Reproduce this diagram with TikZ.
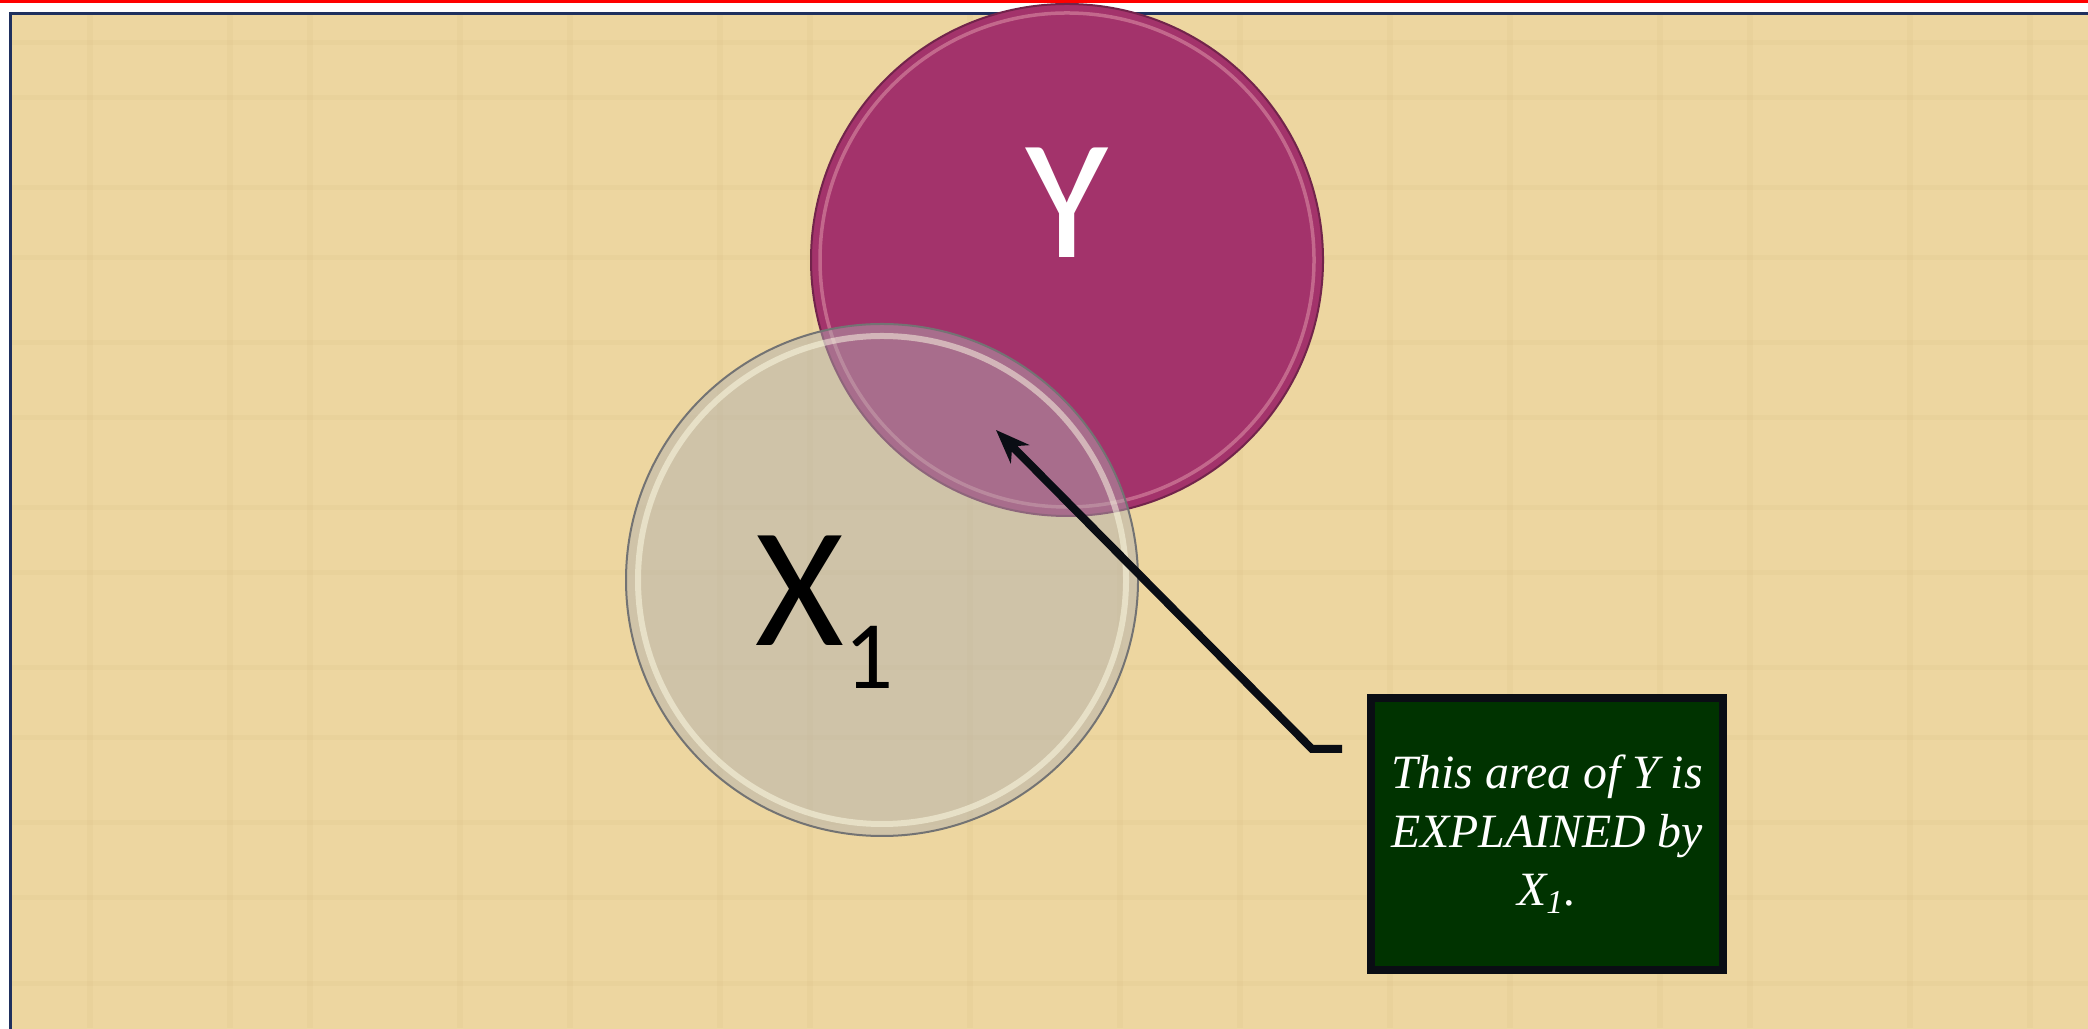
\documentclass[tikz,border=0pt]{standalone}
\usepackage{fontspec}
\usetikzlibrary{arrows.meta,positioning}
\newfontfamily\discfont{Carlito}
\newfontfamily\notefont{Liberation Serif}
\definecolor{papyrus}{RGB}{237,214,160}
\definecolor{papyrusdark}{RGB}{205,178,118}
\definecolor{framenavy}{RGB}{31,48,94}
\definecolor{ydisc}{RGB}{163,51,107}
\definecolor{xdisc}{RGB}{175,175,178}
\definecolor{boardgreen}{RGB}{0,51,0}
\definecolor{inkblack}{RGB}{10,13,20}

\begin{document}
\begin{tikzpicture}[
        disc/.style={circle, minimum size=5.12cm, inner sep=0pt},
        rim/.style={line width=0.035cm},
        pointer/.style={line width=0.08cm, inkblack, -{Stealth[length=0.34cm, width=0.26cm]}},
        note/.style={draw=inkblack, line width=0.08cm, fill=boardgreen, text=white,
            minimum width=3.52cm, minimum height=2.72cm, align=center,
            font=\notefont\itshape\fontsize{13.6}{16.7}\selectfont}
    ]
        \useasboundingbox (0,0) rectangle (20.88,10.28);
        \fill[white] (0,0) rectangle (20.88,10.28);

        % title rule and papyrus panel
        \fill[red] (0,10.25) rectangle (20.88,10.28);
        \fill[papyrus] (0.105,-0.5) rectangle (21.5,10.14);
        \foreach \y in {0.45,1.3,2.05,2.9,3.6,4.55,5.2,6.1,6.85,7.7,8.4,9.3,9.85}
            \draw[papyrusdark, opacity=0.1, line width=0.05cm] (0.105,\y) -- (20.88,\y);
        \foreach \x in {0.9,2.3,3.1,4.6,5.7,7.2,8.1,9.7,11.2,12.4,13.9,15.1,16.6,17.5,19.1,20.3}
            \draw[papyrusdark, opacity=0.1, line width=0.06cm] (\x,0) -- (\x,10.14);
        \draw[framenavy, line width=0.03cm] (0.105,-0.5) rectangle (21.5,10.14);

        % Y disc
        \node[disc, fill=ydisc, draw=ydisc!70!black, line width=0.02cm] (Y) at (10.67,7.68) {};
        \draw[rim, pink!80!white, opacity=0.35] (Y.center) circle (2.47);
        \node[anchor=base, text=white, font=\discfont\fontsize{48.6}{50}\selectfont, inner sep=0pt]
            (ylab) at (10.67,7.70) {Y};

        % X1 disc, see-through over Y
        \node[disc, fill=xdisc, fill opacity=0.47, draw=black!55, line width=0.02cm] (X) at (8.82,4.48) {};
        \draw[rim, white!90!yellow, opacity=0.5, line width=0.06cm] (X.center) circle (2.44);
        \node[anchor=base west, inner sep=0pt, font=\discfont\fontsize{48.6}{50}\selectfont]
            (xlab) at (7.55,3.82) {X\raisebox{-12.2pt}{\fontsize{27.5}{30}\selectfont 1}};

        % explanation board
        \node[note] (expl) at (15.47,1.94) {This area of Y is\\EXPLAINED by\\X\textsubscript{\itshape 1}.};

        % pointer from board into the overlap
        \coordinate (tip) at (9.96,5.98);
        \coordinate (tail) at ([xshift=-0.25cm, yshift=0.85cm]expl.west);
        \coordinate (bend) at ([xshift=-0.30cm]tail);
        \draw[pointer] (tail) -- (bend) -- (tip);
    \end{tikzpicture}
\end{document}
